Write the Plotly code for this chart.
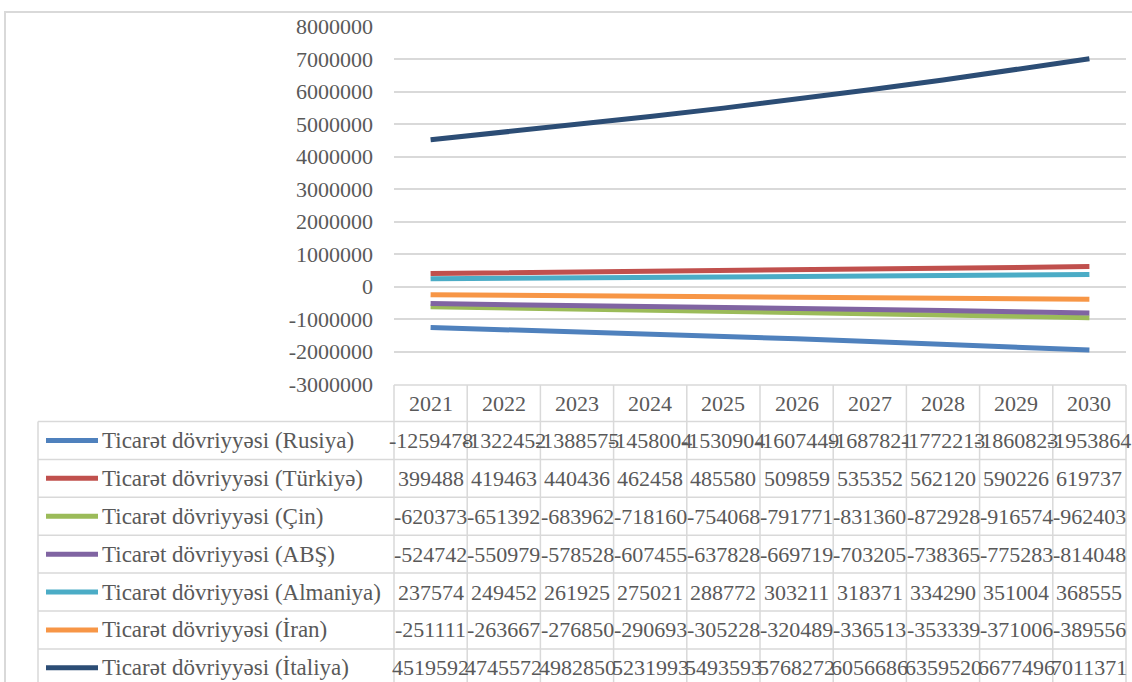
import plotly.graph_objects as go

W, H = 1132, 682

YEARS = ["2021", "2022", "2023", "2024", "2025", "2026", "2027", "2028", "2029", "2030"]

NAMES = [
    "Ticarət dövriyyəsi (Rusiya)",
    "Ticarət dövriyyəsi (Türkiyə)",
    "Ticarət dövriyyəsi (Çin)",
    "Ticarət dövriyyəsi (ABŞ)",
    "Ticarət dövriyyəsi (Almaniya)",
    "Ticarət dövriyyəsi (İran)",
    "Ticarət dövriyyəsi (İtaliya)",
]

RUSIYA = [-1259478, -1322452, -1388575, -1458004, -1530904, -1607449, -1687821, -1772213, -1860823, -1953864]
TURKIYE = [399488, 419463, 440436, 462458, 485580, 509859, 535352, 562120, 590226, 619737]
CIN = [-620373, -651392, -683962, -718160, -754068, -791771, -831360, -872928, -916574, -962403]
ABS = [-524742, -550979, -578528, -607455, -637828, -669719, -703205, -738365, -775283, -814048]
ALMANIYA = [237574, 249452, 261925, 275021, 288772, 303211, 318371, 334290, 351004, 368555]
IRAN = [-251111, -263667, -276850, -290693, -305228, -320489, -336513, -353339, -371006, -389556]
ITALIYA = [4519592, 4745572, 4982850, 5231993, 5493593, 5768272, 6056686, 6359520, 6677496, 7011371]

SERIES = [RUSIYA, TURKIYE, CIN, ABS, ALMANIYA, IRAN, ITALIYA]
COLORS = ["#4F81BD", "#C0504D", "#9BBB59", "#8064A2", "#4BACC6", "#F79646", "#2C4D75"]

Y_TICKS = [-3000000, -2000000, -1000000, 0, 1000000, 2000000, 3000000,
           4000000, 5000000, 6000000, 7000000, 8000000]

TEXT = "#595959"
GRID = "#D9D9D9"
FONT = "Liberation Serif"
FS = 22


def px(x):
    return x / W


def py(y):
    return 1 - y / H


# plot area / table geometry in page pixels
PX0, PX1 = 394, 1126
PY0, PY1 = 26.7, 384
HDR_TOP, HDR_BOT = 385, 421.5
ROW_H = 37.9
LEG_X = 38

fig = go.Figure()
for name, vals, col in zip(NAMES, SERIES, COLORS):
    fig.add_trace(go.Scatter(x=YEARS, y=vals, mode="lines", name=name,
                             line=dict(color=col, width=5)))

fig.update_layout(
    width=W, height=H, margin=dict(l=0, r=0, t=0, b=0, pad=0),
    paper_bgcolor="white", plot_bgcolor="white", showlegend=False,
    font=dict(family=FONT, size=FS, color=TEXT),
)
fig.update_xaxes(type="category", range=[-0.5, 9.5], showticklabels=False,
                 showgrid=False, zeroline=False, automargin=False,
                 domain=[px(PX0), px(PX1)])
fig.update_yaxes(range=[-3000000, 8000000], tickvals=Y_TICKS,
                 ticktext=[str(v) for v in Y_TICKS], showgrid=True,
                 gridcolor=GRID, gridwidth=1.5, zeroline=False, automargin=False,
                 ticklabelstandoff=20, tickfont=dict(size=FS, color=TEXT),
                 domain=[py(PY1), py(PY0)])

line = dict(color=GRID, width=2)
# outer chart frame (right and bottom edges run off the page)
fig.add_shape(type="rect", xref="paper", yref="paper", x0=px(5), x1=1.05,
              y0=-0.05, y1=py(12), line=line, layer="above")

# table: header row and grid
line = dict(color=GRID, width=1.5)
fig.add_shape(type="line", xref="paper", yref="paper", x0=px(PX0), x1=px(PX1),
              y0=py(HDR_TOP), y1=py(HDR_TOP), line=line)
for i in range(len(YEARS) + 1):
    xi = PX0 + i * (PX1 - PX0) / len(YEARS)
    fig.add_shape(type="line", xref="paper", yref="paper", x0=px(xi), x1=px(xi),
                  y0=py(HDR_TOP), y1=0, line=line)
fig.add_shape(type="line", xref="paper", yref="paper", x0=px(LEG_X), x1=px(LEG_X),
              y0=py(HDR_BOT), y1=0, line=line)
for r in range(len(NAMES) + 1):
    yr = HDR_BOT + r * ROW_H
    fig.add_shape(type="line", xref="paper", yref="paper", x0=px(LEG_X), x1=px(PX1),
                  y0=py(yr), y1=py(yr), line=line)

for j, yr_label in enumerate(YEARS):
    fig.add_annotation(x=j, xref="x", y=py((HDR_TOP + HDR_BOT) / 2), yref="paper",
                       text=yr_label, showarrow=False, xanchor="center", yanchor="middle",
                       font=dict(size=FS, color=TEXT))

for r, (name, vals, col) in enumerate(zip(NAMES, SERIES, COLORS)):
    yc = HDR_BOT + (r + 0.5) * ROW_H
    fig.add_shape(type="line", xref="paper", yref="paper", x0=px(46), x1=px(98),
                  y0=py(yc), y1=py(yc), line=dict(color=col, width=5))
    fig.add_annotation(x=px(100), xref="paper", y=py(yc), yref="paper", text=name,
                       showarrow=False, xanchor="left", yanchor="middle",
                       font=dict(size=FS + 1, color=TEXT))
    for j, v in enumerate(vals):
        fig.add_annotation(x=j, xref="x", y=py(yc), yref="paper", text=str(v),
                           showarrow=False, xanchor="center", yanchor="middle",
                           font=dict(size=FS, color=TEXT))

fig.write_html("out.html", config={"displayModeBar": False},
               post_script="document.body.style.margin='0';")
